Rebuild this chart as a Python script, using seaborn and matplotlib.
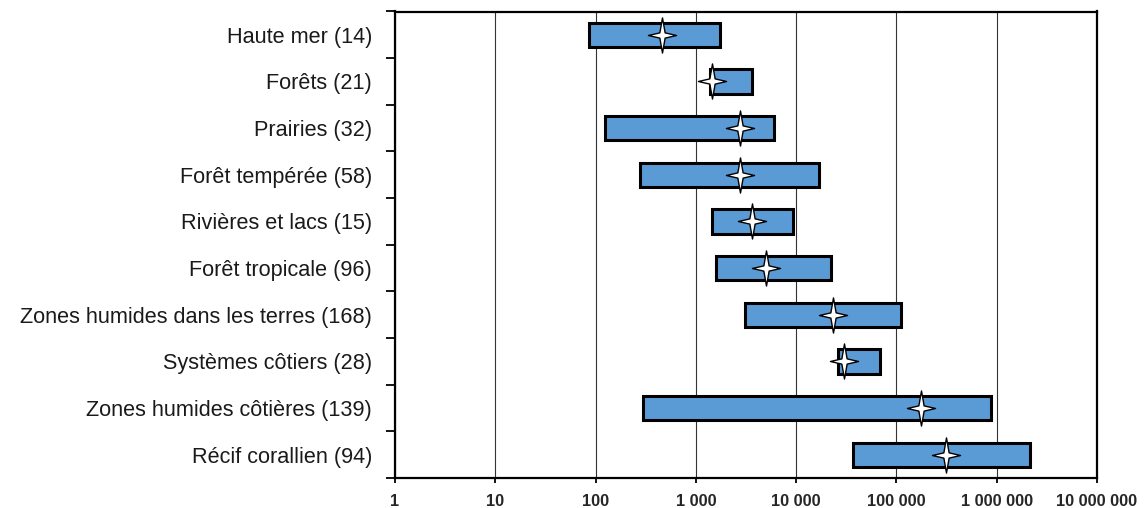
import numpy as np
import pandas as pd
import matplotlib
matplotlib.use("Agg")
import matplotlib.pyplot as plt
import seaborn as sns
from matplotlib.path import Path
from matplotlib.ticker import FixedLocator, FixedFormatter

# ---- data ----
ecosystems = ["Haute mer (14)", "Forêts (21)", "Prairies (32)", "Forêt tempérée (58)",
              "Rivières et lacs (15)", "Forêt tropicale (96)",
              "Zones humides dans les terres (168)", "Systèmes côtiers (28)",
              "Zones humides côtières (139)", "Récif corallien (94)"]
low = [86, 1390, 125, 279, 1460, 1600, 3110, 26200, 300, 37200]
high = [1750, 3650, 6060, 17000, 9380, 22400, 110000, 69200, 887000, 2170000]
median = [462, 1460, 2775, 2775, 3650, 5040, 23500, 30200, 174000, 315000]
tick_values = [1, 10, 100, 1000, 10000, 100000, 1000000, 10000000]
tick_labels = ["1", "10", "100", "1 000", "10 000", "100 000", "1 000 000", "10 000 000"]

df = pd.DataFrame({"ecosystem": ecosystems, "low": low, "high": high, "median": median})
df["pos"] = np.arange(len(df))
df["span"] = df["high"] - df["low"]

sns.set_theme(style="white")
plt.rcParams["font.family"] = ["Liberation Sans", "DejaVu Sans"]

fig = plt.figure(figsize=(11.45, 5.08), dpi=100)
ax = fig.add_axes([395 / 1145, 1 - 478 / 508, (1097 - 395) / 1145, (478 - 11.5) / 508])

ax.set_xscale("log")
ax.set_axisbelow(True)
ax.grid(axis="x", which="major", color="#333333", linewidth=0.8)
ax.grid(axis="y", visible=False)

ax.barh(df["pos"], df["span"], left=df["low"], height=0.52,
        color="#5B9BD5", edgecolor="black", linewidth=2.2, zorder=2)

star = Path([(0, 1), (0.15, 0.15), (0.8, 0), (0.15, -0.15), (0, -1),
             (-0.15, -0.15), (-0.8, 0), (-0.15, 0.15), (0, 1)],
            [Path.MOVETO] + [Path.LINETO] * 7 + [Path.CLOSEPOLY])
sns.scatterplot(data=df, x="median", y="pos", marker=star, s=640, color="white",
                edgecolor="black", linewidth=1.0, zorder=3, ax=ax, legend=False)

ax.set_xlim(1, 1e7)
ax.set_ylim(len(df) - 0.5, -0.5)
ax.xaxis.set_major_locator(FixedLocator(tick_values))
ax.xaxis.set_major_formatter(FixedFormatter(tick_labels))
ax.xaxis.set_minor_locator(FixedLocator([]))
ax.set_yticks(df["pos"])
ax.set_yticklabels(df["ecosystem"])
ax.yaxis.set_minor_locator(FixedLocator(np.arange(-0.5, len(df), 1.0)))
ax.set_xlabel("")
ax.set_ylabel("")

ax.tick_params(axis="y", which="major", length=0, pad=16.5, labelsize=15.6, labelcolor="#1a1a1a")
ax.tick_params(axis="y", which="minor", left=True, length=6.5, width=1.3, color="black", direction="out")
ax.tick_params(axis="x", which="major", bottom=True, length=3.8, width=1.3, color="black",
               direction="out", pad=7.5, labelsize=11.8)
for lbl in ax.get_xticklabels():
    lbl.set_fontweight("bold")

for sp in ax.spines.values():
    sp.set_visible(True)
    sp.set_color("black")
    sp.set_linewidth(1.6)

fig.savefig("out.png", dpi=100)
